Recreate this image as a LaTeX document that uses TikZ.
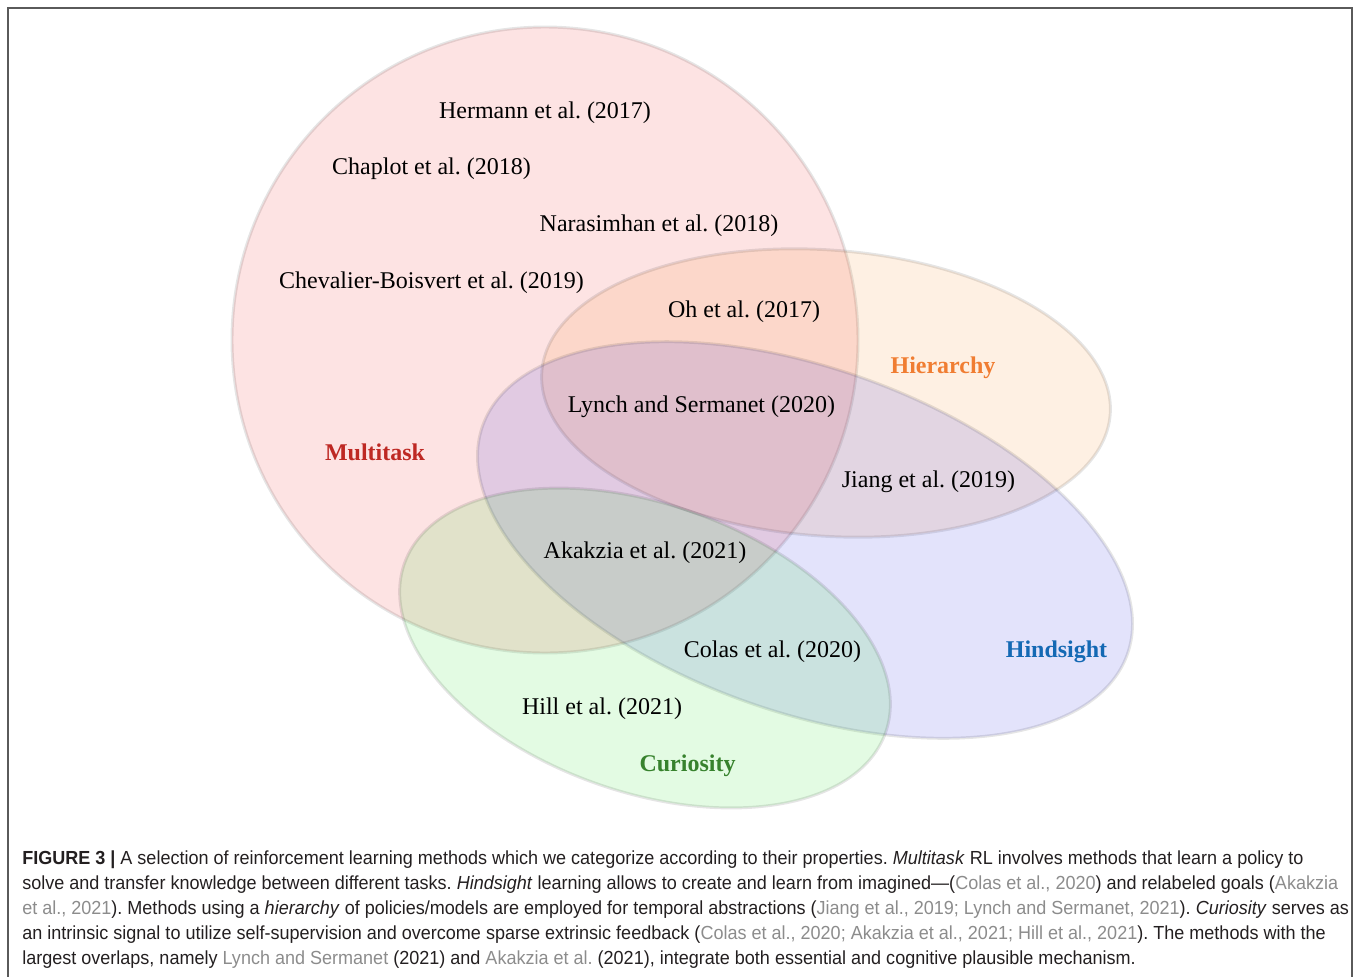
\documentclass[tikz,border=0pt]{standalone}
\usepackage{fontspec}
\setmainfont{Liberation Serif}
\newfontfamily\capfont[FakeStretch=0.952,Ligatures=TeX]{Liberation Sans}
\frenchspacing
\definecolor{multired}{RGB}{238,22,22}
\definecolor{hierorange}{RGB}{247,130,22}
\definecolor{hindblue}{RGB}{22,22,222}
\definecolor{curgreen}{RGB}{22,222,22}
\definecolor{multitxt}{RGB}{190,40,35}
\definecolor{hiertxt}{RGB}{240,125,50}
\definecolor{hindtxt}{RGB}{20,105,180}
\definecolor{curtxt}{RGB}{55,130,45}
\definecolor{captext}{RGB}{35,31,32}
\definecolor{citegray}{RGB}{140,140,140}
\definecolor{framegray}{RGB}{90,90,90}
\newcommand{\gcite}[1]{\textcolor{citegray}{#1}}
\tikzset{
  venn/.style={draw=black,draw opacity=0.1,line width=2.2pt,fill opacity=0.12},
  citelabel/.style={anchor=base,inner sep=0pt,font=\fontsize{18}{18}\selectfont},
  setlabel/.style={anchor=base,inner sep=0pt,font=\fontsize{18}{18}\selectfont\bfseries},
  capline/.style={anchor=base west,inner sep=0pt,text=captext,font=\capfont\fontsize{14.2}{14.2}\selectfont\frenchspacing}
}
\begin{document}
\begin{tikzpicture}[x=0.75pt,y=-0.75pt]
\pgfmathsetmacro{\kcapx}{22}
\pgfmathsetmacro{\kcapy}{864}
\pgfmathsetmacro{\kcapstep}{25}
\useasboundingbox (0,0) rectangle (1358,976);
\draw[line width=1.1pt,framegray](8,1000)--(8,8)--(1352,8)--(1352,1000);
\foreach \cx/\cy/\rx/\ry/\ang/\col in {545/340/313/313/0/multired,826/393/285/143/-4.3/hierorange,805/540/342/172/-19.5/hindblue,645/648/255/144/-19.3/curgreen}{
  \filldraw[venn,fill=\col,rotate around={\ang:(\cx,\cy)}](\cx,\cy)ellipse[x radius=\rx,y radius=\ry];
}
\foreach \lx/\ly/\lname/\ltxt in {545/118/hermann/{Hermann et al. (2017)},431.5/174/chaplot/{Chaplot et al. (2018)},659/231/narasimhan/{Narasimhan et al. (2018)},431.5/288/chevalier/{Chevalier-Boisvert et al. (2019)},744/317/oh/{Oh et al. (2017)},701.5/412/lynch/{Lynch and Sermanet (2020)},928.5/487/jiang/{Jiang et al. (2019)},645/558/akakzia/{Akakzia et al. (2021)},772.5/657/colas/{Colas et al. (2020)},602/714/hill/{Hill et al. (2021)}}{
  \node[citelabel](\lname)at(\lx,\ly){\ltxt};
}
\foreach \lx/\ly/\lname/\lcol in {375/460/Multitask/multitxt,943/373/Hierarchy/hiertxt,1056.5/657/Hindsight/hindtxt,687.5/771/Curiosity/curtxt}{
  \node[setlabel,text=\lcol](\lname)at(\lx,\ly){\lname};
}
\node[capline](cap1)at(\kcapx,\kcapy){\textbf{FIGURE 3 |} A selection of reinforcement learning methods which we categorize according to their properties. \textit{Multitask} RL involves methods that learn a policy to};
\node[capline](cap2)at(\kcapx,\kcapy+\kcapstep){solve and transfer knowledge between different tasks. \textit{Hindsight} learning allows to create and learn from imagined\textemdash(\gcite{Colas et al., 2020}) and relabeled goals (\gcite{Akakzia}};
\node[capline](cap3)at(\kcapx,\kcapy+2*\kcapstep){\gcite{et al., 2021}). Methods using a \textit{hierarchy} of policies/models are employed for temporal abstractions (\gcite{Jiang et al., 2019; Lynch and Sermanet, 2021}). \textit{Curiosity} serves as};
\node[capline](cap4)at(\kcapx,\kcapy+3*\kcapstep){an intrinsic signal to utilize self-supervision and overcome sparse extrinsic feedback (\gcite{Colas et al., 2020; Akakzia et al., 2021; Hill et al., 2021}). The methods with the};
\node[capline](cap5)at(\kcapx,\kcapy+4*\kcapstep){largest overlaps, namely \gcite{Lynch and Sermanet} (2021) and \gcite{Akakzia et al.} (2021), integrate both essential and cognitive plausible mechanism.};
\end{tikzpicture}
\end{document}
